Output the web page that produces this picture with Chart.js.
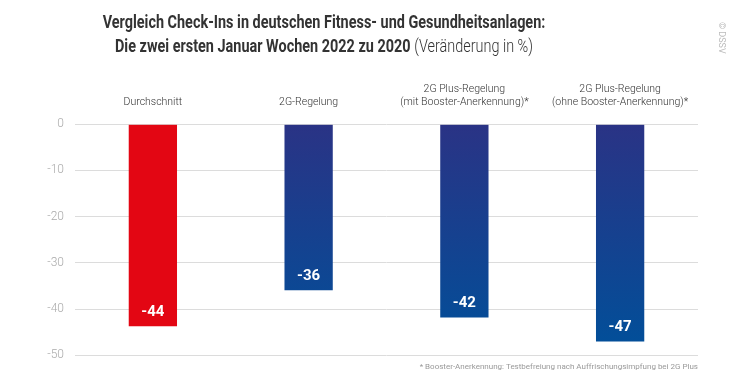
<!DOCTYPE html>
<html>
<head>
<meta charset="utf-8">
<script src="https://cdn.jsdelivr.net/npm/chart.js@4"></script>
<style>
  body { margin: 0; background: #fff; }
  #wrap { position: relative; width: 748px; height: 390px; }
  #title { position: absolute; left: 24px; top: 10px; width: 600px; text-align: center;
    font-family: Roboto, sans-serif; font-weight: bold;
    font-size: 18.5px; line-height: 24px; color: #333; white-space: nowrap;
    transform: scaleX(0.78); transform-origin: 300px 0; }
  #title .light { font-weight: 300; }
  #copy { position: absolute; left: 727px; top: 22px; transform-origin: 0 0; transform: rotate(90deg);
    font-family: Roboto, sans-serif; font-size: 9px; color: #bbb; white-space: nowrap; }
</style>
</head>
<body>
<div id="wrap">
  <canvas id="chart" width="748" height="390"></canvas>
  <div id="title">Vergleich Check-Ins in deutschen Fitness- und Gesundheitsanlagen:<br>
    Die zwei ersten Januar Wochen 2022 zu 2020 <span class="light">(Veränderung in %)</span></div>
  <div id="copy">© DSSV</div>
</div>
<script>
// Werte (Veränderung in %)
const categories = [
  "Durchschnitt",
  "2G-Regelung",
  ["2G Plus-Regelung", "(mit Booster-Anerkennung)*"],
  ["2G Plus-Regelung", "(ohne Booster-Anerkennung)*"]
];
const changeValues = [-43.7, -35.9, -41.8, -47.0];
const valueLabels = ["-44", "-36", "-42", "-47"];
const yTicks = [0, -10, -20, -30, -40, -50];
const footnote = "* Booster-Anerkennung: Testbefreiung nach Auffrischungsimpfung bei 2G Plus";

const font = "Roboto, sans-serif";

function barColor(ctx) {
  const chart = ctx.chart;
  if (ctx.dataIndex === 0) return "#e30613";
  const area = chart.chartArea;
  if (!area) return "#1e3f8c";
  const g = chart.ctx.createLinearGradient(0, area.top, 0, area.bottom);
  g.addColorStop(0, "#2a3385");
  g.addColorStop(1, "#00509a");
  return g;
}

// white value labels inside bar ends
const valueLabelPlugin = {
  id: "valueLabels",
  afterDatasetsDraw(chart) {
    const c = chart.ctx;
    const meta = chart.getDatasetMeta(0);
    c.save();
    c.fillStyle = "#fff";
    c.font = "bold 15px " + font;
    c.textAlign = "center";
    c.textBaseline = "middle";
    meta.data.forEach(function (bar, i) {
      c.fillText(valueLabels[i], bar.x, bar.y - 14);
    });
    c.restore();
  }
};

new Chart(document.getElementById("chart"), {
  type: "bar",
  data: {
    labels: categories,
    datasets: [{
      data: changeValues,
      backgroundColor: barColor,
      barPercentage: 0.31,
      categoryPercentage: 1.0
    }]
  },
  plugins: [valueLabelPlugin],
  options: {
    responsive: false,
    animation: false,
    layout: { padding: { top: 75, right: 50, left: 0, bottom: 4 } },
    plugins: {
      legend: { display: false },
      tooltip: { enabled: false },
      subtitle: {
        display: true,
        text: footnote,
        position: "bottom",
        align: "end",
        color: "#999",
        font: { family: font, size: 8 },
        padding: { top: 7, bottom: 14 }
      }
    },
    scales: {
      x: {
        position: "top",
        grid: { display: false },
        border: { display: false },
        ticks: {
          color: "#333",
          font: { family: font, size: 10.5, weight: "300" },
          padding: 8,
          maxRotation: 0,
          autoSkip: false
        }
      },
      y: {
        min: -50,
        max: 0,
        afterBuildTicks(scale) {
          scale.ticks = yTicks.map(function (v) { return { value: v }; });
        },
        afterFit(scale) { scale.width = 75; },
        grid: { color: "#dcdcdc", drawTicks: false, lineWidth: 1 },
        border: { display: false },
        ticks: {
          color: "#aaa",
          font: { family: font, size: 12, weight: "300" },
          padding: 11
        }
      }
    }
  }
});
</script>
</body>
</html>
